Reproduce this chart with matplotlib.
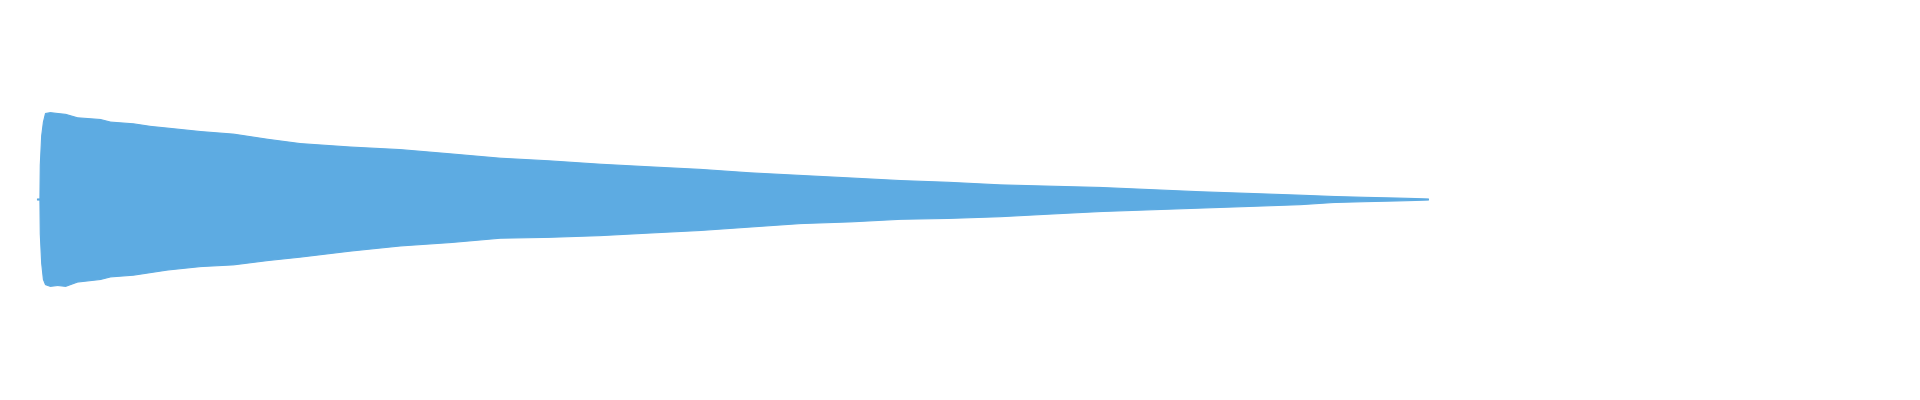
import matplotlib
matplotlib.use("Agg")
import matplotlib.pyplot as plt

# tempo (s) e envelope da onda (amplitude normalizada)
tempo = [0.0, 0.007, 0.008, 0.012, 0.017, 0.023, 0.037, 0.058, 0.081, 0.115,
         0.181, 0.210, 0.276, 0.325, 0.374, 0.469, 0.564, 0.662, 0.756, 0.900,
         1.044, 1.190, 1.331, 1.470, 1.619, 1.760, 1.907, 2.050, 2.194, 2.340,
         2.482, 2.620, 2.769, 2.910, 3.057, 3.200, 3.344, 3.490, 3.632, 3.727,
         3.819, 3.908, 3.954, 4.0]
env_sup = [0.006, 0.006, 0.40, 0.74, 0.90, 1.00, 1.01, 1.00, 0.99, 0.95,
           0.93, 0.90, 0.88, 0.85, 0.83, 0.79, 0.76, 0.70, 0.65, 0.61,
           0.58, 0.53, 0.48, 0.45, 0.41, 0.38, 0.35, 0.31, 0.28, 0.25,
           0.22, 0.20, 0.17, 0.155, 0.14, 0.115, 0.09, 0.07, 0.05, 0.035,
           0.025, 0.017, 0.012, 0.006]
env_inf = [-0.006, -0.006, -0.40, -0.74, -0.93, -0.99, -1.01, -1.00, -1.01, -0.96,
           -0.93, -0.90, -0.88, -0.85, -0.82, -0.78, -0.76, -0.71, -0.67, -0.60,
           -0.54, -0.50, -0.45, -0.44, -0.42, -0.39, -0.36, -0.32, -0.28, -0.26,
           -0.23, -0.22, -0.20, -0.17, -0.14, -0.12, -0.10, -0.08, -0.06, -0.035,
           -0.025, -0.017, -0.012, -0.006]

cor = '#5dabe2'

fig = plt.figure(figsize=(19.2, 4), dpi=100)
ax = fig.add_axes([0, 0, 1, 1])
ax.fill_between(tempo, env_inf, env_sup, color=cor, edgecolor=cor, linewidth=0.8)

# limites para posicionar a onda como no original
ax.set_xlim(-0.1064, 5.415)
ax.set_ylim(-201 / 86, 199 / 86)
ax.axis('off')

fig.savefig('out.png', dpi=100, facecolor='white')
